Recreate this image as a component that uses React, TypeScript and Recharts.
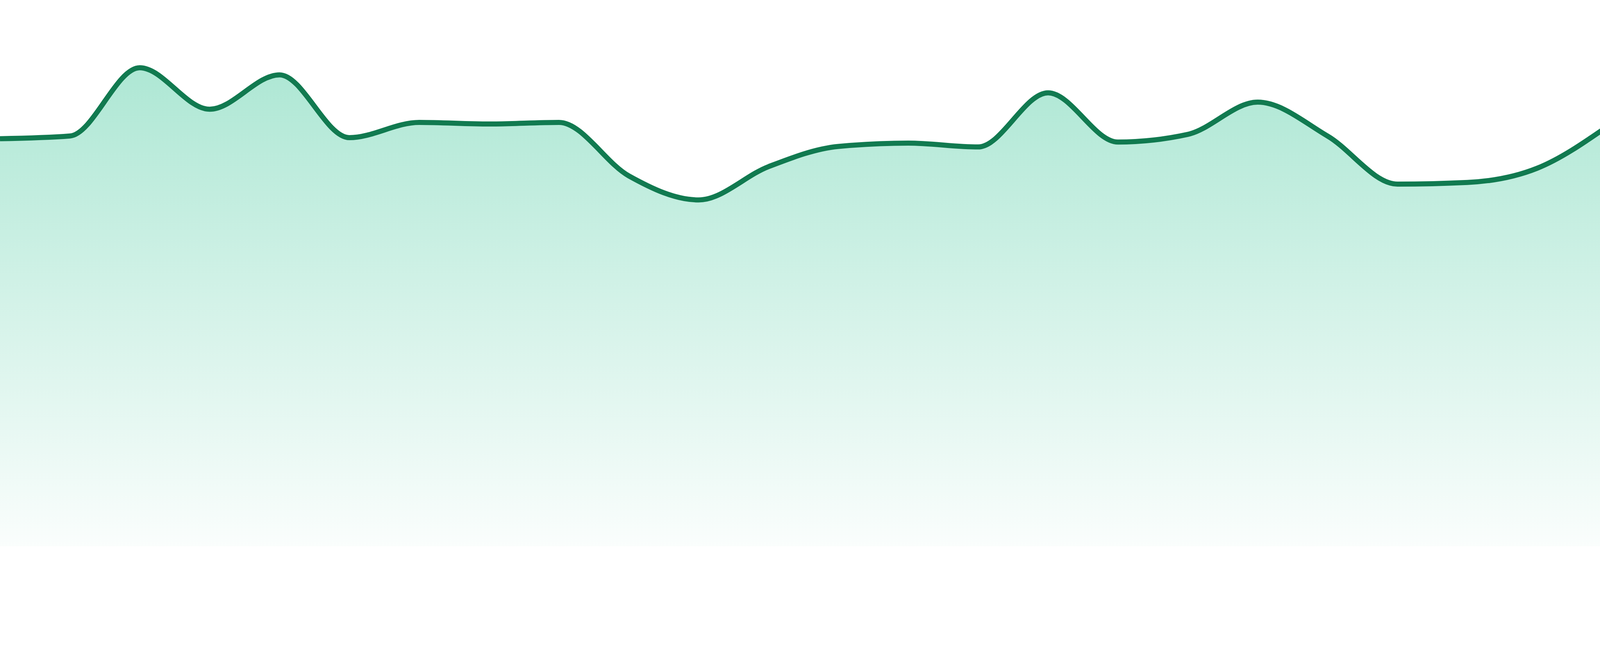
import { AreaChart, Area, XAxis, YAxis } from 'recharts';

const labels = [
  'P1', 'P2', 'P3', 'P4', 'P5', 'P6', 'P7', 'P8', 'P9', 'P10', 'P11', 'P12',
  'P13', 'P14', 'P15', 'P16', 'P17', 'P18', 'P19', 'P20', 'P21', 'P22', 'P23', 'P24',
];

const values = [
  74.6, 75.1, 87.6, 80.0, 86.3, 74.8, 77.6, 77.3, 77.6, 67.8, 63.4, 69.5,
  73.2, 73.8, 73.1, 83.0, 74.0, 75.4, 81.3, 75.1, 66.3, 66.6, 69.2, 76.8,
];

const data = labels.map((label, i) => ({ label, value: values[i] }));

// the page is photographed at a 7/6 device scale, so 4800px of picture = 4114 css px
const W = 4114;
const H = 1399;

export default function App() {
  return (
    <div style={{ position: 'absolute', left: 0, top: 0, width: W, height: H }}>
      <AreaChart width={W} height={H} data={data} margin={{ top: 0, right: 0, bottom: 0, left: 0 }}>
        <defs>
          <linearGradient id="areaFill" x1="0" y1="0" x2="0" y2="1">
            <stop offset="0%" stopColor="#10b981" stopOpacity={0.34} />
            <stop offset="100%" stopColor="#10b981" stopOpacity={0.02} />
          </linearGradient>
        </defs>
        <XAxis dataKey="label" hide />
        <YAxis hide domain={[0, 100]} />
        <Area
          type="monotone"
          dataKey="value"
          stroke="#117a50"
          strokeWidth={13}
          fill="url(#areaFill)"
          fillOpacity={1}
          dot={false}
          activeDot={false}
          isAnimationActive={false}
        />
      </AreaChart>
    </div>
  );
}
